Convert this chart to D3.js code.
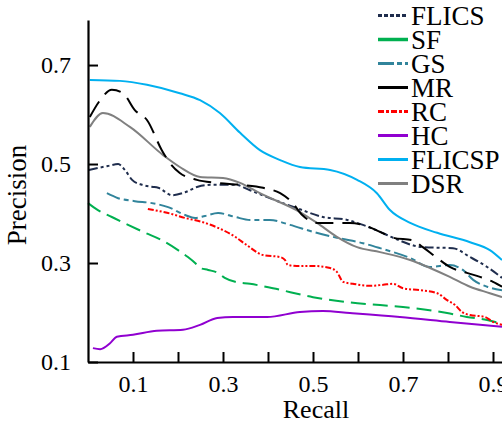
<!DOCTYPE html>
<html>
<head>
<meta charset="utf-8">
<script src="https://cdn.jsdelivr.net/npm/d3@7"></script>
<style>
  body { margin: 0; background: #fff; }
  svg text { font-family: "Liberation Serif", "Times New Roman", serif; fill: #000; }
</style>
</head>
<body>
<div class="chart"></div>
<script>
// series names, colours, dashes
let seriesNames = ['FLICS', 'SF', 'GS', 'MR', 'RC', 'HC', 'FLICSP', 'DSR']
let seriesColors = ['#1f2d4d', '#00b050', '#31849b', '#000000', '#ff0000', '#9000d0', '#00b0f0', '#808080']
let seriesDash = ['9,3,3,3,3,3', '15,7', '14,4,5,4', '18,9', '6,2,2,2,2,2', null, null, null]

let xTicks = [0.1, 0.2, 0.3, 0.4, 0.5, 0.6, 0.7, 0.8, 0.9]
let xLabels = [0.1, 0.3, 0.5, 0.7, 0.9]
let yTicks = [0.1, 0.3, 0.5, 0.7]

// [recall, precision]
let flics = [[0.002, 0.488], [0.022, 0.492], [0.044, 0.496], [0.067, 0.500], [0.082, 0.488], [0.098, 0.468],
  [0.120, 0.458], [0.142, 0.454], [0.156, 0.452], [0.187, 0.437], [0.216, 0.443], [0.244, 0.454],
  [0.276, 0.458], [0.327, 0.458], [0.360, 0.447], [0.404, 0.431], [0.464, 0.411], [0.522, 0.393],
  [0.576, 0.387], [0.611, 0.377], [0.649, 0.363], [0.678, 0.351], [0.744, 0.332], [0.811, 0.330],
  [0.849, 0.312], [0.887, 0.292], [0.920, 0.270]]
let sf = [[0.000, 0.421], [0.022, 0.407], [0.053, 0.393], [0.089, 0.377], [0.127, 0.361], [0.164, 0.346],
  [0.200, 0.326], [0.222, 0.312], [0.238, 0.300], [0.249, 0.290], [0.267, 0.286], [0.289, 0.280],
  [0.304, 0.270], [0.327, 0.262], [0.360, 0.258], [0.411, 0.249], [0.500, 0.231], [0.576, 0.221],
  [0.649, 0.215], [0.722, 0.209], [0.798, 0.199], [0.842, 0.191], [0.887, 0.185], [0.920, 0.177]]
let gs = [[0.042, 0.441], [0.067, 0.431], [0.104, 0.425], [0.142, 0.421], [0.178, 0.413], [0.216, 0.397],
  [0.238, 0.391], [0.260, 0.395], [0.289, 0.401], [0.327, 0.393], [0.360, 0.387], [0.404, 0.387],
  [0.449, 0.377], [0.500, 0.363], [0.553, 0.351], [0.611, 0.340], [0.649, 0.330], [0.716, 0.310],
  [0.760, 0.292], [0.804, 0.296], [0.833, 0.286], [0.856, 0.266], [0.887, 0.252], [0.920, 0.245]]
let mr = [[0.004, 0.595], [0.027, 0.629], [0.053, 0.650], [0.078, 0.643], [0.104, 0.609], [0.131, 0.589],
  [0.164, 0.528], [0.182, 0.502], [0.204, 0.482], [0.242, 0.468], [0.287, 0.462], [0.338, 0.458],
  [0.389, 0.452], [0.427, 0.441], [0.453, 0.423], [0.476, 0.397], [0.509, 0.381], [0.582, 0.381],
  [0.611, 0.377], [0.649, 0.363], [0.678, 0.351], [0.722, 0.346], [0.744, 0.332], [0.776, 0.310],
  [0.804, 0.292], [0.842, 0.280], [0.871, 0.272], [0.900, 0.262], [0.920, 0.252]]
let rc = [[0.133, 0.409], [0.178, 0.401], [0.216, 0.391], [0.253, 0.383], [0.289, 0.371], [0.327, 0.353],
  [0.353, 0.336], [0.389, 0.316], [0.427, 0.312], [0.438, 0.306], [0.444, 0.296], [0.464, 0.294],
  [0.500, 0.294], [0.538, 0.290], [0.553, 0.282], [0.567, 0.262], [0.589, 0.258], [0.627, 0.254],
  [0.656, 0.256], [0.678, 0.258], [0.700, 0.249], [0.738, 0.245], [0.776, 0.239], [0.798, 0.225],
  [0.816, 0.215], [0.831, 0.201], [0.849, 0.195], [0.882, 0.191], [0.900, 0.181], [0.920, 0.175]]
let hc = [[0.011, 0.128], [0.027, 0.126], [0.049, 0.138], [0.064, 0.151], [0.100, 0.155], [0.153, 0.163],
  [0.211, 0.165], [0.249, 0.175], [0.287, 0.189], [0.322, 0.191], [0.398, 0.191], [0.471, 0.201],
  [0.522, 0.203], [0.582, 0.199], [0.693, 0.191], [0.804, 0.181], [0.920, 0.171]]
let flicsp = [[0.004, 0.670], [0.071, 0.668], [0.131, 0.660], [0.204, 0.643], [0.249, 0.629], [0.293, 0.603],
  [0.338, 0.563], [0.382, 0.528], [0.427, 0.508], [0.471, 0.494], [0.538, 0.488], [0.598, 0.468],
  [0.642, 0.441], [0.671, 0.407], [0.716, 0.381], [0.776, 0.361], [0.849, 0.342], [0.893, 0.326],
  [0.920, 0.306]]
let dsr = [[0.004, 0.575], [0.033, 0.603], [0.093, 0.575], [0.167, 0.518], [0.204, 0.494], [0.249, 0.474],
  [0.300, 0.472], [0.338, 0.462], [0.382, 0.441], [0.471, 0.403], [0.509, 0.381], [0.553, 0.353],
  [0.598, 0.332], [0.649, 0.322], [0.716, 0.306], [0.760, 0.290], [0.804, 0.272], [0.849, 0.252],
  [0.893, 0.239], [0.920, 0.231]]

let seriesData = [flics, sf, gs, mr, rc, hc, flicsp, dsr]

//图表样式
let w = 502, h = 424
let serif = '"Liberation Serif", "Times New Roman", serif'
let svg = d3.select('.chart').append('svg')
  .attr('width', w)
  .attr('height', h)

let xScale = d3.scaleLinear().domain([0, 1]).range([88, 538])
let yScale = d3.scaleLinear().domain([0.1, 0.791]).range([362, 20])

// 曲线
let line = d3.line()
  .x(d => xScale(d[0]))
  .y(d => yScale(d[1]))
  .curve(d3.curveMonotoneX)

// draw order: lower ones first
let drawOrder = [5, 1, 4, 2, 0, 7, 3, 6]
drawOrder.forEach(i => {
  svg.append('path')
    .attr('d', line(seriesData[i]))
    .attr('fill', 'none')
    .attr('stroke', seriesColors[i])
    .attr('stroke-width', 2)
    .attr('stroke-dasharray', seriesDash[i])
})

// 坐标轴
let xAxis = d3.axisBottom(xScale)
  .tickValues(xTicks)
  .tickSizeInner(-10)
  .tickSizeOuter(0)
  .tickPadding(13)
  .tickFormat(d => xLabels.some(v => Math.abs(v - d) < 1e-9) ? d3.format('.1f')(d) : '')
let gx = svg.append('g')
  .attr('transform', 'translate(0, 362)')
  .call(xAxis)
gx.select('.domain').attr('stroke-width', 2.2)
gx.selectAll('line').attr('stroke-width', 2)
gx.selectAll('text').attr('font-size', 24).style('font-family', serif).attr('dy', '0.71em')

let yAxis = d3.axisLeft(yScale)
  .tickValues(yTicks)
  .tickSizeInner(-10)
  .tickSizeOuter(0)
  .tickPadding(17)
  .tickFormat(d3.format('.1f'))
let gy = svg.append('g')
  .attr('transform', 'translate(88, 0)')
  .call(yAxis)
gy.select('.domain').attr('stroke-width', 2.2)
gy.selectAll('line').attr('stroke-width', 2)
gy.selectAll('text').attr('font-size', 24).style('font-family', serif)

// 轴标题
svg.append('text')
  .attr('x', 316)
  .attr('y', 418)
  .attr('text-anchor', 'middle')
  .attr('font-size', 26)
  .style('font-family', serif)
  .text('Recall')
svg.append('text')
  .attr('transform', 'translate(26, 195) rotate(-90)')
  .attr('text-anchor', 'middle')
  .attr('font-size', 27)
  .style('font-family', serif)
  .text('Precision')

// 图例
let legendDash = ['4,2', null, '16,3,5,3', null, '6,2,3,2', null, null, null]
let legend = svg.append('g')
seriesNames.forEach((name, i) => {
  let ly = 15.5 + i * 24
  legend.append('line')
    .attr('x1', 378).attr('x2', 408)
    .attr('y1', ly).attr('y2', ly)
    .attr('stroke', seriesColors[i])
    .attr('stroke-width', i === 1 ? 3.5 : 3)
    .attr('stroke-dasharray', legendDash[i])
  legend.append('text')
    .attr('x', 411)
    .attr('y', ly + 9.5)
    .attr('font-size', 27)
    .style('font-family', serif)
    .text(name)
})
</script>
</body>
</html>
